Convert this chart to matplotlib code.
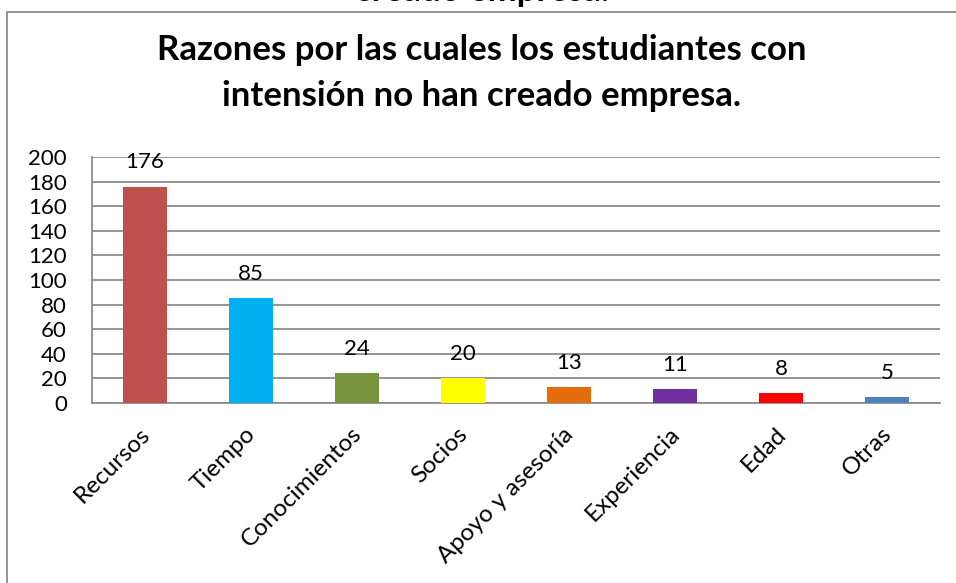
import matplotlib
matplotlib.use("Agg")
import matplotlib.pyplot as plt
from matplotlib.patches import Rectangle

categories = ["Recursos", "Tiempo", "Conocimientos", "Socios", "Apoyo y asesoría",
              "Experiencia", "Edad", "Otras"]
values = [176, 85, 24, 20, 13, 11, 8, 5]
colors = ["#C0504D", "#00B0F0", "#77933C", "#FFFF00", "#E46C0A", "#7030A0", "#FF0000", "#4F81BD"]
yticks = list(range(0, 201, 20))

plt.rcParams['font.family'] = ['Lato', 'DejaVu Sans']

W, H = 956, 583
fig = plt.figure(figsize=(W / 100, H / 100), dpi=100)

# outer chart frame
frame = Rectangle((7 / W, -0.05), 1.2, (H - 12.5) / H + 0.05, transform=fig.transFigure,
                  fill=False, edgecolor="#8C8C8C", linewidth=1.3, zorder=0)
fig.add_artist(frame)

# clipped previous title fragment at very top
fig.text(482 / W, 1 + 9 / H, "creado empresa.", ha="center", va="center",
         fontsize=25, fontweight="bold", color="black")

fig.text(482 / W, 1 - 50 / H, "Razones por las cuales los estudiantes con",
         ha="center", va="center", fontsize=25, fontweight="bold")
fig.text(482 / W, 1 - 96 / H, "intensión no han creado empresa.",
         ha="center", va="center", fontsize=25, fontweight="bold")

left, right, top, bottom = 92, 940, 157, 403
ax = fig.add_axes([left / W, 1 - bottom / H, (right - left) / W, (bottom - top) / H])

x = list(range(len(categories)))
ax.bar(x, values, width=0.41, color=colors, zorder=3)
for xi, v in zip(x, values):
    ax.annotate(str(v), (xi, v), xytext=(0, 13), textcoords="offset points",
                ha="center", va="baseline", fontsize=16, zorder=4)

ax.set_xlim(-0.5, len(categories) - 0.5)
ax.set_ylim(0, 200)
ax.set_yticks(yticks)
ax.set_yticklabels([str(t) for t in yticks], fontsize=16)
ax.yaxis.grid(True, color="#8C8C8C", linewidth=1.3, zorder=0)
ax.set_axisbelow(True)
ax.set_xticks(x)
ax.set_xticklabels(categories, rotation=45, ha="right", va="center_baseline",
                   rotation_mode="anchor", fontsize=17.5)
ax.tick_params(axis="y", length=0, pad=18)
ax.tick_params(axis="x", length=0, pad=19)
for s in ["top", "right"]:
    ax.spines[s].set_visible(False)
ax.spines["left"].set_color("#8C8C8C")
ax.spines["bottom"].set_color("#8C8C8C")
ax.spines["left"].set_linewidth(1.3)
ax.spines["bottom"].set_linewidth(1.3)

fig.savefig("out.png", dpi=100)
